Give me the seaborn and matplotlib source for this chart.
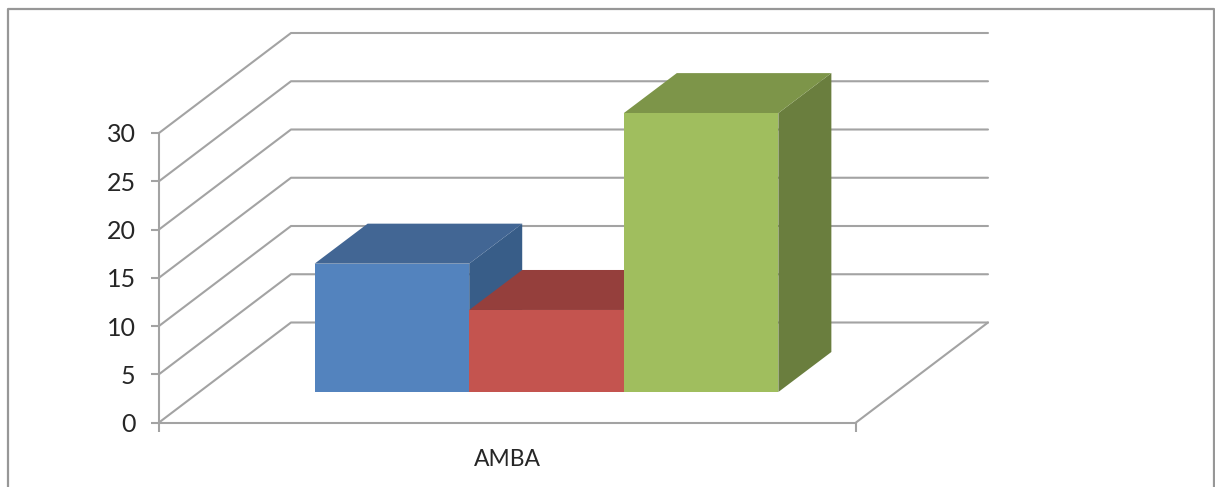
"""
plot.py
-------
3-D look column chart: one category, three series, with slanted walls.
"""

import matplotlib.pyplot as plt
import pandas as pd
import seaborn as sns
from matplotlib.lines import Line2D

# ── Data ─────────────────────────────────────────────────────────────
categories = ["AMBA"]
series_names = ["Series 1", "Series 2", "Series 3"]
series_values = [13.3, 8.5, 28.9]
y_ticks = [0, 5, 10, 15, 20, 25, 30]

# ── Colours (front, top, side) ───────────────────────────────────────
front_colors = ["#5383BE", "#C4544F", "#A0BE5E"]
top_colors = ["#426694", "#953F3C", "#7D9549"]
side_colors = ["#385D88", "#8A3A38", "#6A7E3E"]
grid_color = "#A3A3A3"
frame_color = "#979797"

# ── Layout, in pixels of the 1215x487 picture ────────────────────────
W, H = 1215, 487
AX_LEFT, AX_RIGHT = 159, 856
AX_TOP, AX_BOTTOM = 133, 422.5
X_PER_UNIT = (AX_RIGHT - AX_LEFT) / 1.5
Y_PER_UNIT = (AX_BOTTOM - AX_TOP) / 30

WALL_DX = 132 / X_PER_UNIT
WALL_DY = 100 / Y_PER_UNIT
BAR_SHIFT_X = 39 / X_PER_UNIT
BAR_SHIFT_Y = 30.5 / Y_PER_UNIT
BAR_DX = 53 / X_PER_UNIT
BAR_DY = 40 / Y_PER_UNIT


def draw_walls(ax, xmin, xmax):
    """Draw slanted gridlines and the floor outline behind the bars."""
    style = dict(color=grid_color, lw=1.5, clip_on=False, zorder=1)
    for v in y_ticks:
        ax.plot(
            [xmin, xmin + WALL_DX, xmax + WALL_DX],
            [v, v + WALL_DY, v + WALL_DY],
            **style,
        )
    ax.plot([xmax, xmax + WALL_DX], [0, WALL_DY], **style)


def draw_bar_faces(ax, patch, top_color, side_color):
    """Move a front face into the chart depth, then add its top and side."""
    patch.set_x(patch.get_x() + BAR_SHIFT_X)
    patch.set_y(patch.get_y() + BAR_SHIFT_Y)
    patch.set_clip_on(False)
    patch.set_zorder(5)
    x0, x1 = patch.get_x(), patch.get_x() + patch.get_width()
    y0, y1 = patch.get_y(), patch.get_y() + patch.get_height()
    ax.fill(
        [x0, x1, x1 + BAR_DX, x0 + BAR_DX],
        [y1, y1, y1 + BAR_DY, y1 + BAR_DY],
        color=top_color, lw=0, clip_on=False, zorder=3,
    )
    ax.fill(
        [x1, x1 + BAR_DX, x1 + BAR_DX, x1],
        [y1, y1 + BAR_DY, y0 + BAR_DY, y0],
        color=side_color, lw=0, clip_on=False, zorder=2.5,
    )


if __name__ == "__main__":
    sns.set_theme(style="ticks")
    plt.rcParams["font.family"] = ["Lato", "DejaVu Sans"]

    df = pd.DataFrame({
        "category": categories * len(series_names),
        "series": series_names,
        "value": series_values,
    })

    fig = plt.figure(figsize=(W / 100, H / 100), dpi=100, facecolor="white")
    ax = fig.add_axes([
        AX_LEFT / W,
        (H - AX_BOTTOM) / H,
        (AX_RIGHT - AX_LEFT) / W,
        (AX_BOTTOM - AX_TOP) / H,
    ])

    sns.barplot(
        data=df, x="category", y="value", hue="series",
        hue_order=series_names, palette=front_colors,
        width=0.998, gap=0, saturation=1, legend=False, linewidth=0, ax=ax,
    )

    # later series sit on top of the earlier ones' sides
    for i, patch in enumerate(ax.patches[:len(series_names)]):
        draw_bar_faces(ax, patch, top_colors[i], side_colors[i])

    xmin, xmax = -0.75, 0.75
    draw_walls(ax, xmin, xmax)
    ax.set_xlim(xmin, xmax)
    ax.set_ylim(0, 30)
    ax.set_xlabel("")
    ax.set_ylabel("")
    ax.patch.set_alpha(0)

    # ── Axes ─────────────────────────────────────────────────────────
    ax.set_yticks(y_ticks)
    ax.tick_params(
        axis="y", length=5.8, width=1.5, color=grid_color,
        labelsize=18, labelcolor="#262626", pad=11,
    )
    ax.tick_params(
        axis="x", which="major", length=0,
        labelsize=16.5, labelcolor="#262626", pad=19,
    )
    ax.set_xticks([xmin, xmax], minor=True)
    ax.tick_params(axis="x", which="minor", length=6.5, width=1.5, color=grid_color)
    sns.despine(ax=ax)
    for side in ("left", "bottom"):
        ax.spines[side].set_color(grid_color)
        ax.spines[side].set_linewidth(1.5)

    # ── Chart frame, runs off the bottom of the picture ──────────────
    fx = [7.5 / W, 7.5 / W, 1214 / W, 1214 / W]
    fy = [0, 1 - 8.5 / H, 1 - 8.5 / H, 0]
    fig.add_artist(Line2D(fx, fy, color=frame_color, lw=1.6, transform=fig.transFigure))

    fig.savefig("out.png", dpi=100)
